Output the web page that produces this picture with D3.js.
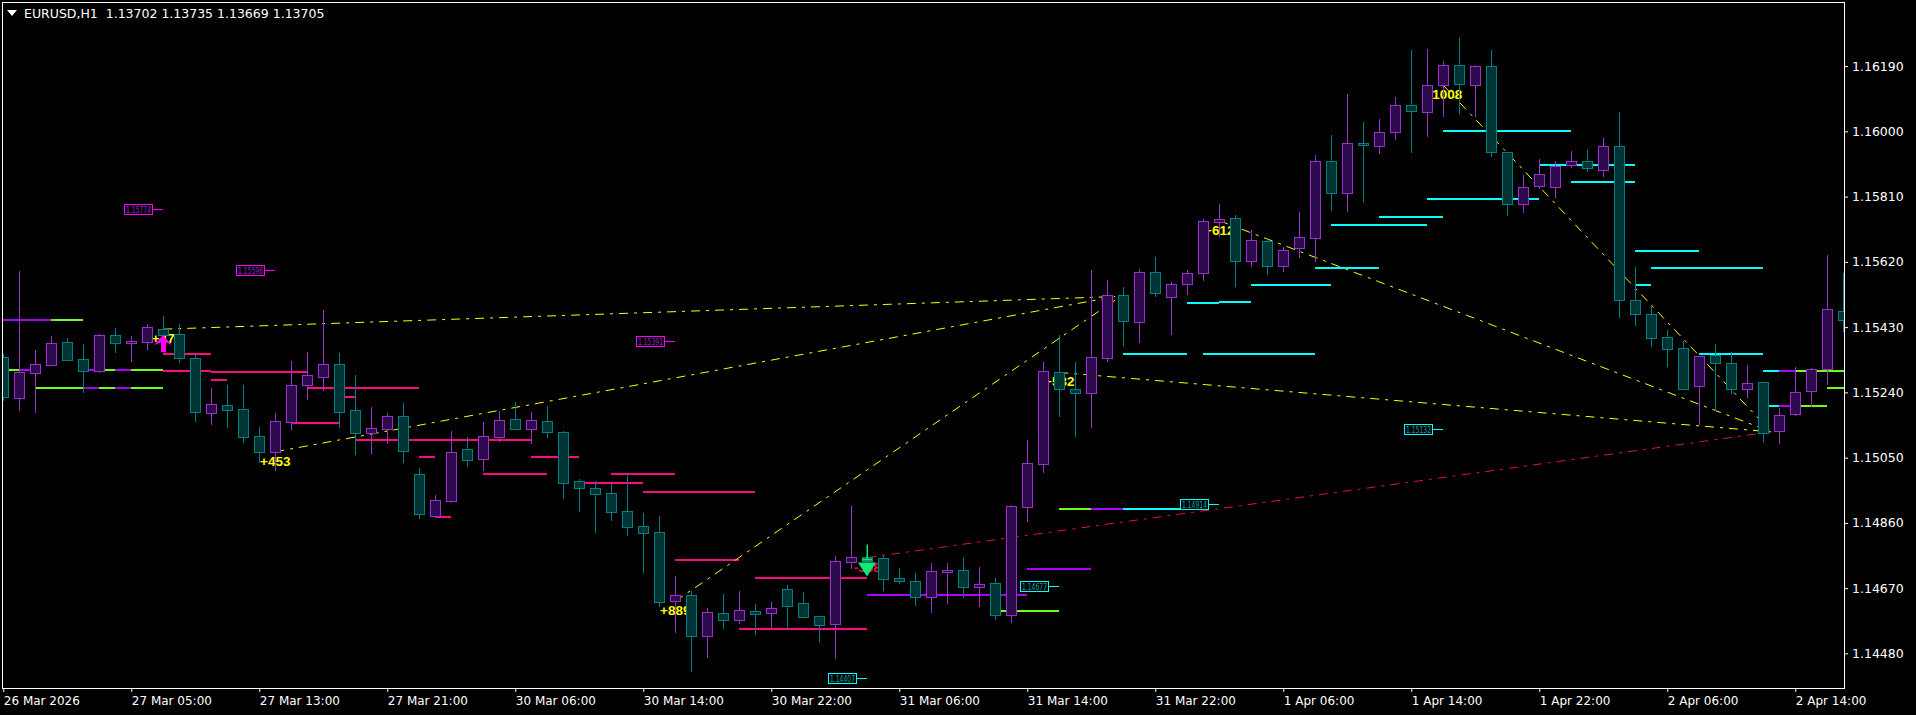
<!DOCTYPE html>
<html><head><meta charset="utf-8">
<script src="https://cdn.jsdelivr.net/npm/d3@7"></script>
<style>
html,body{margin:0;padding:0;background:#000;overflow:hidden}
svg{display:block}
</style></head><body>
<svg id="chart" width="1916" height="715"></svg>
<script>
// ---------- DATA ----------
const symbolTitle = "EURUSD,H1  1.13702 1.13735 1.13669 1.13705";
const opens  = [1.15342,1.15223,1.15297,1.15320,1.15387,1.15337,1.15303,1.15407,1.15383,1.15388,
1.15424,1.15409,1.15339,1.15179,1.15202,1.15191,1.15113,1.15067,1.15155,1.15261,
1.15286,1.15322,1.15188,1.15123,1.15134,1.15171,1.15002,1.14880,1.14924,1.15074,
1.15047,1.15111,1.15162,1.15134,1.15156,1.15124,1.14981,1.14961,1.14946,1.14894,
1.14851,1.14833,1.14632,1.14649,1.14532,1.14597,1.14576,1.14603,1.14597,1.14667,
1.14626,1.14588,1.14565,1.14745,1.14761,1.14757,1.14699,1.14690,1.14643,1.14717,
1.14723,1.14673,1.14685,1.14591,1.14907,1.15031,1.15298,1.15249,1.15237,1.15339,
1.15523,1.15444,1.15590,1.15519,1.15555,1.15587,1.15737,1.15747,1.15622,1.15680,
1.15607,1.15660,1.15689,1.15913,1.15820,1.15965,1.15956,1.15997,1.16076,1.16055,
1.16134,1.16192,1.16134,1.16189,1.15939,1.15788,1.15840,1.15837,1.15901,1.15913,
1.15888,1.15956,1.15508,1.15467,1.15400,1.15368,1.15258,1.15348,1.15325,1.15251,
1.15269,1.15127,1.15176,1.15243,1.15307,1.15476];
const highs  = [1.15352,1.15593,1.15363,1.15404,1.15397,1.15381,1.15410,1.15427,1.15404,1.15439,
1.15462,1.15439,1.15349,1.15254,1.15261,1.15261,1.15139,1.15179,1.15331,1.15358,
1.15480,1.15355,1.15291,1.15198,1.15179,1.15209,1.15019,1.14941,1.15128,1.15110,
1.15155,1.15187,1.15211,1.15182,1.15199,1.15128,1.14988,1.14981,1.14973,1.15002,
1.14888,1.14880,1.14705,1.14663,1.14611,1.14653,1.14662,1.14623,1.14630,1.14680,
1.14659,1.14588,1.14764,1.14909,1.14775,1.14764,1.14730,1.14713,1.14744,1.14744,
1.14757,1.14731,1.14699,1.14912,1.15101,1.15328,1.15407,1.15328,1.15596,1.15567,
1.15547,1.15598,1.15634,1.15561,1.15596,1.15744,1.15788,1.15756,1.15712,1.15686,
1.15662,1.15765,1.15930,1.15989,1.16109,1.16026,1.16035,1.16099,1.16237,1.16240,
1.16204,1.16272,1.16194,1.16237,1.15940,1.15872,1.15919,1.15913,1.15942,1.15945,
1.15981,1.16056,1.15604,1.15491,1.15421,1.15389,1.15346,1.15380,1.15357,1.15319,
1.15270,1.15194,1.15313,1.15310,1.15639,1.15587];
const lows   = [1.15215,1.15187,1.15179,1.15317,1.15332,1.15239,1.15296,1.15356,1.15329,1.15363,
1.15378,1.15326,1.15155,1.15145,1.15137,1.15093,1.15035,1.15012,1.15130,1.15218,
1.15245,1.15137,1.15058,1.15061,1.15090,1.15035,1.14871,1.14874,1.14918,1.15024,
1.15012,1.15096,1.15133,1.15089,1.15108,1.14929,1.14893,1.14831,1.14866,1.14823,
1.14715,1.14616,1.14540,1.14427,1.14468,1.14552,1.14566,1.14534,1.14553,1.14552,
1.14584,1.14514,1.14463,1.14725,1.14734,1.14663,1.14682,1.14618,1.14599,1.14623,
1.14640,1.14616,1.14577,1.14569,1.14863,1.15006,1.15169,1.15111,1.15137,1.15329,
1.15376,1.15385,1.15519,1.15407,1.15524,1.15565,1.15692,1.15546,1.15606,1.15583,
1.15591,1.15632,1.15619,1.15769,1.15766,1.15795,1.15933,1.15974,1.15938,1.15983,
1.16043,1.16050,1.16041,1.15926,1.15755,1.15761,1.15831,1.15805,1.15892,1.15883,
1.15868,1.15456,1.15434,1.15371,1.15315,1.15249,1.15145,1.15187,1.15236,1.15223,
1.15096,1.15089,1.15170,1.15197,1.15261,1.15415];
const closes = [1.15226,1.15300,1.15323,1.15384,1.15334,1.15303,1.15407,1.15385,1.15390,1.15430,
1.15408,1.15341,1.15184,1.15205,1.15190,1.15111,1.15067,1.15156,1.15261,1.15290,
1.15322,1.15184,1.15123,1.15135,1.15171,1.15070,1.14886,1.14927,1.15066,1.15043,
1.15113,1.15159,1.15134,1.15159,1.15126,1.14977,1.14961,1.14943,1.14891,1.14849,
1.14830,1.14631,1.14649,1.14532,1.14600,1.14576,1.14606,1.14594,1.14611,1.14619,
1.14587,1.14562,1.14748,1.14760,1.14749,1.14696,1.14690,1.14645,1.14719,1.14722,
1.14672,1.14681,1.14591,1.14908,1.15034,1.15301,1.15249,1.15237,1.15342,1.15523,
1.15447,1.15590,1.15528,1.15555,1.15587,1.15738,1.15744,1.15622,1.15683,1.15607,
1.15654,1.15692,1.15913,1.15820,1.15965,1.15959,1.15997,1.16076,1.16058,1.16134,
1.16192,1.16137,1.16189,1.15939,1.15788,1.15837,1.15875,1.15898,1.15913,1.15892,
1.15956,1.15508,1.15467,1.15397,1.15367,1.15251,1.15345,1.15325,1.15251,1.15266,
1.15121,1.15173,1.15240,1.15307,1.15482,1.15450];

const priceTicks = [1.14480,1.14670,1.14860,1.15050,1.15240,1.15430,1.15620,1.15810,1.16000,1.16190];
const timeTickBars = [0,8,16,24,32,40,48,56,64,72,80,88,96,104,112];
const timeLabels = ["26 Mar 2026","27 Mar 05:00","27 Mar 13:00","27 Mar 21:00","30 Mar 06:00",
"30 Mar 14:00","30 Mar 22:00","31 Mar 06:00","31 Mar 14:00","31 Mar 22:00","1 Apr 06:00",
"1 Apr 14:00","1 Apr 22:00","2 Apr 06:00","2 Apr 14:00"];

// horizontal level segments: [startBar, endBar, price, kind]
const levels = [
 [0,3,1.15451,'violet'],[3,5,1.15451,'green'],
 [0,1,1.15304,'green'],[1,2,1.15304,'violet'],[5,6,1.15304,'violet'],[6,7,1.15304,'green'],[7,8,1.15304,'violet'],[8,10,1.15304,'green'],
 [2,5,1.15254,'green'],[5,6,1.15254,'violet'],[6,7,1.15254,'green'],[7,8,1.15254,'violet'],[8,10,1.15254,'green'],
 [10,13,1.15353,'pink'],[10,13,1.15303,'pink'],[13,19,1.15300,'pink'],[13,14,1.15277,'pink'],
 [19,26,1.15254,'pink'],[21.3,22,1.15227,'pink'],[18,21,1.15152,'pink'],[22,33,1.15101,'pink'],
 [26,27,1.15053,'pink'],[33,36,1.15052,'pink'],[30,34,1.15002,'pink'],[38,42,1.15002,'pink'],
 [36,40,1.14977,'pink'],[40,47,1.14950,'pink'],[27,28,1.14877,'pink'],[42,46,1.14752,'pink'],
 [47,54,1.14700,'pink'],[46,54,1.14552,'pink'],
 [54,64,1.14650,'violet'],[64,68,1.14726,'violet'],[62,66,1.14603,'green'],
 [66,68,1.14901,'green'],[68,70,1.14901,'violet'],[70,75,1.14901,'cyan'],
 [70,74,1.15353,'cyan'],[75,82,1.15353,'cyan'],[74,76,1.15501,'cyan'],[76,78,1.15504,'cyan'],
 [78,83,1.15553,'cyan'],[82,86,1.15603,'cyan'],[83,89,1.15728,'cyan'],[86,90,1.15751,'cyan'],
 [89,96,1.15803,'cyan'],[90,98,1.16002,'cyan'],[96,102,1.15903,'cyan'],[98,102,1.15853,'cyan'],
 [102,106,1.15653,'cyan'],[103,110,1.15603,'cyan'],[102,103,1.15554,'cyan'],[106,110,1.15353,'cyan'],
 [110,111,1.15303,'cyan'],[111,112,1.15303,'violet'],[112,116,1.15303,'green'],
 [114,116,1.15254,'green'],
 [110.3,111,1.15201,'cyan'],[111,112,1.15201,'violet'],[112,114,1.15201,'green']
];

// swing connection lines: [fromBar, fromPrice, toBar, toPrice, kind]
const swingLines = [
 [10,1.15424,69.5,1.15519,'yellow'],
 [17,1.15067,69.5,1.15519,'yellow'],
 [42,1.14632,69.5,1.15509,'yellow'],
 [66,1.15298,110.5,1.15125,'yellow'],
 [76,1.15740,110.5,1.15125,'yellow'],
 [90,1.16134,110.5,1.15125,'yellow'],
 [54,1.14759,110.5,1.15125,'red']
];
// swing point texts
const swingTexts = [
 [10,1.15424,'+47','yellow'],[17,1.15067,'+453','yellow'],[42,1.14632,'+889','yellow'],
 [54,1.14759,'-368','red'],[66,1.15298,'+532','yellow'],[76,1.15740,'+612','yellow'],
 [90,1.16134,'+1008','yellow']
];
// price tags: [bar, price, kind]
const priceTags = [
 [10,1.15774,'magenta'],[17,1.15596,'magenta'],[42,1.15391,'magenta'],
 [54,1.14407,'cyan'],[66,1.14677,'cyan'],[76,1.14914,'cyan'],[90,1.15132,'cyan']
];
// arrows: [bar, price, direction]
const arrows = [[10,1.15424,'up'],[54,1.14759,'down']];

// ---------- STYLE ----------
const levelColors = {pink:'#ff0a80', cyan:'#00ffff', green:'#6cff1a', violet:'#aa00ff'};
const lineColors = {yellow:'#ffff00', red:'#e0143c'};
const tagColors = {magenta:{stroke:'#ff00ff', text:'#9a20d0'}, cyan:{stroke:'#00ffff', text:'#00a8a8'}};
const bull = {fill:'#2e0a4e', stroke:'#9932cc'};
const bear = {fill:'#013434', stroke:'#008080'};
const fg = '#ffffff';

// ---------- CHART ----------
const W=1916, H=715, L=2, T=2, R=1844, B=688;
const svg = d3.select('#chart');
svg.append('rect').attr('width',W).attr('height',H).attr('fill','#000');

const x = d3.scaleLinear().domain([0,115]).range([3.3,1843.3]);
const y = d3.scaleLinear().domain([1.14480,1.16190]).range([653.4,66.1]);

svg.append('defs').append('clipPath').attr('id','clip')
  .append('rect').attr('x',L+1).attr('y',T+1).attr('width',R-L-1).attr('height',B-T-1);
const plot = svg.append('g').attr('clip-path','url(#clip)');

// levels
plot.append('g').selectAll('line').data(levels).join('line')
  .attr('x1',d=>Math.round(x(d[0]))).attr('x2',d=>Math.round(x(d[1])))
  .attr('y1',d=>Math.round(y(d[2]))).attr('y2',d=>Math.round(y(d[2])))
  .attr('stroke',d=>levelColors[d[3]]).attr('stroke-width',2)
  .attr('shape-rendering','crispEdges');

// swing lines
plot.append('g').selectAll('line').data(swingLines).join('line')
  .attr('x1',d=>x(d[0])).attr('y1',d=>y(d[1])).attr('x2',d=>x(d[2])).attr('y2',d=>y(d[3]))
  .attr('stroke',d=>lineColors[d[4]]).attr('stroke-width',1)
  .attr('stroke-dasharray','9,6,3,6');

// price tags
const tg = plot.append('g').selectAll('g').data(priceTags).join('g')
  .attr('transform',d=>`translate(${Math.round(x(d[0]))},${Math.round(y(d[1]))})`);
tg.append('line').attr('x1',-10).attr('x2',0).attr('y1',0.5).attr('y2',0.5)
  .attr('stroke',d=>tagColors[d[2]].stroke).attr('stroke-width',1);
tg.append('rect').attr('x',-38.5).attr('y',-4.5).attr('width',28).attr('height',10)
  .attr('fill','#000').attr('stroke',d=>tagColors[d[2]].stroke).attr('stroke-width',1);
tg.append('text').attr('x',-37).attr('y',3.5).text(d=>d[1].toFixed(5))
  .attr('fill',d=>tagColors[d[2]].text).attr('font-family','DejaVu Sans')
  .attr('font-size',8).attr('textLength',25).attr('lengthAdjust','spacingAndGlyphs');

// swing texts
plot.append('g').selectAll('text').data(swingTexts).join('text')
  .attr('x',d=>x(d[0])).attr('y',d=>y(d[1])+14)
  .attr('text-anchor','middle').attr('font-family','Liberation Sans, Arial, sans-serif')
  .attr('font-weight','bold').attr('font-size',13.5)
  .attr('fill',d=>lineColors[d[3]]).text(d=>d[2]);

// candles
const bars = d3.range(opens.length).map(i=>({i,o:opens[i],h:highs[i],l:lows[i],c:closes[i]}));
const cg = plot.append('g').attr('shape-rendering','crispEdges');
const cs = cg.selectAll('g').data(bars).join('g');
cs.append('line')
  .attr('x1',d=>Math.round(x(d.i))+0.5).attr('x2',d=>Math.round(x(d.i))+0.5)
  .attr('y1',d=>Math.round(y(d.h))).attr('y2',d=>Math.round(y(d.l)))
  .attr('stroke',d=>d.c>=d.o?bull.stroke:bear.stroke).attr('stroke-width',1);
cs.append('rect')
  .attr('x',d=>Math.round(x(d.i))-5+0.5)
  .attr('y',d=>Math.round(y(Math.max(d.o,d.c)))+0.5)
  .attr('width',10)
  .attr('height',d=>Math.max(1,Math.round(y(Math.min(d.o,d.c)))-Math.round(y(Math.max(d.o,d.c)))))
  .attr('fill',d=>d.c>=d.o?bull.fill:bear.fill)
  .attr('stroke',d=>d.c>=d.o?bull.stroke:bear.stroke).attr('stroke-width',1);

// arrows
const ag = plot.append('g');
arrows.forEach(a=>{
  const cx = Math.round(x(a[0])), cy = y(a[1]);
  if(a[2]==='up'){
    const t = cy+6;
    ag.append('path')
      .attr('d',`M${cx},${t} L${cx+9},${t+10} L${cx+3},${t+7} L${cx+3},${t+17} L${cx-2},${t+17} L${cx-2},${t+7} L${cx-9},${t+10} Z`)
      .attr('fill','#ff00ff');
  } else {
    ag.append('rect').attr('x',cx-0.5).attr('y',cy-13).attr('width',1.5).attr('height',15).attr('fill','#10e878');
    ag.append('rect').attr('x',cx-5).attr('y',cy+1).attr('width',10).attr('height',2).attr('fill','#10e878');
    ag.append('path').attr('d',`M${cx-9},${cy+5} L${cx+9},${cy+5} L${cx},${cy+19} Z`).attr('fill','#10e878');
  }
});

// frame
svg.append('rect').attr('x',L+0.5).attr('y',T+0.5).attr('width',R-L).attr('height',B-T)
  .attr('fill','none').attr('stroke',fg).attr('stroke-width',1).attr('shape-rendering','crispEdges');

// y axis
const ya = svg.append('g').attr('transform',`translate(${R},0)`)
  .call(d3.axisRight(y).tickValues(priceTicks).tickSize(4).tickPadding(4).tickFormat(d3.format('.5f')));
ya.select('.domain').remove();
ya.selectAll('line').attr('stroke',fg);
ya.selectAll('text').attr('fill',fg).attr('font-family','DejaVu Sans').attr('font-size',12.5);

// x axis
const xa = svg.append('g').attr('transform',`translate(0,${B})`)
  .call(d3.axisBottom(x).tickValues(timeTickBars).tickSize(4).tickPadding(4.5).tickFormat((d,i)=>timeLabels[i]));
xa.select('.domain').remove();
xa.selectAll('line').attr('stroke',fg);
xa.selectAll('text').attr('fill',fg).attr('font-family','DejaVu Sans').attr('font-size',12)
  .attr('text-anchor','start').attr('x',0);

// header
svg.append('path').attr('d','M7,10 L17,10 L12,16 Z').attr('fill',fg);
svg.append('text').attr('x',24).attr('y',18.3).attr('fill',fg)
  .attr('font-family','DejaVu Sans').attr('font-size',12.5)
  .style('white-space','pre').text(symbolTitle);
</script>
</body></html>
